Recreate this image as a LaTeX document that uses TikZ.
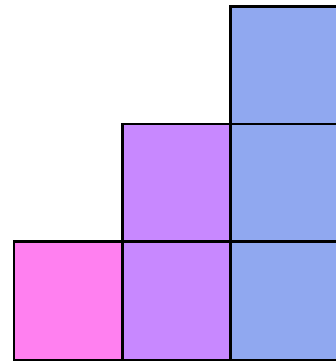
\documentclass[tikz,border=0pt]{standalone}
\definecolor{cpink}{RGB}{255,128,240}
\definecolor{cpurple}{RGB}{200,136,255}
\definecolor{cblue}{RGB}{144,168,240}
\begin{document}
\begin{tikzpicture}[x=1pt,y=-1pt,
  cell/.style={draw=black,line width=2.8pt}]
\useasboundingbox (0,0) rectangle (336,363);
\path[cell,fill=cpink]   (14,241.8) rectangle (122.3,360);
\path[cell,fill=cpurple] (122.3,241.8) rectangle (230.8,360);
\path[cell,fill=cpurple] (122.3,124) rectangle (230.8,241.8);
\path[cell,fill=cblue]   (230.8,241.8) rectangle (340,360);
\path[cell,fill=cblue]   (230.8,124) rectangle (340,241.8);
\path[cell,fill=cblue]   (230.8,6.5) rectangle (340,124);
\end{tikzpicture}
\end{document}
